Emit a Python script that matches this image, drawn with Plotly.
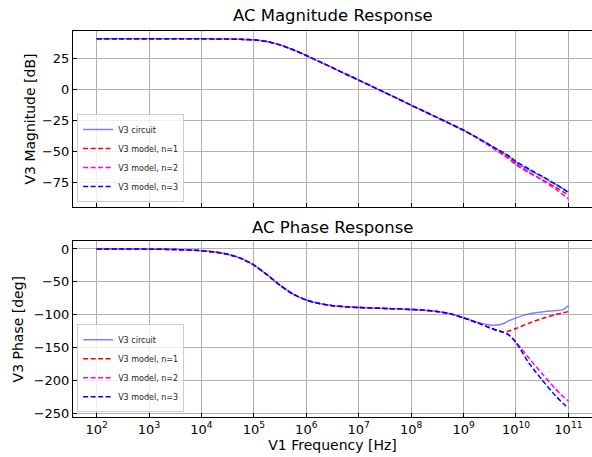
import plotly.graph_objects as go
from plotly.subplots import make_subplots

# log10 of V1 frequency [Hz]
log_f = [2.0, 2.5, 3.0, 3.5, 4.0, 4.25, 4.5, 4.75, 5.0, 5.25, 5.5, 5.75, 6.0, 6.25, 6.5, 6.75,
         7.0, 7.25, 7.5, 7.75, 8.0, 8.25, 8.5, 8.75, 9.0, 9.25, 9.5, 9.6, 9.75, 9.85, 10.0,
         10.25, 10.5, 10.75, 10.9, 11.0]
freq = [10 ** e for e in log_f]

mag_circuit = [40.6, 40.6, 40.6, 40.6, 40.6, 40.55, 40.45, 40.2, 39.8, 38.4, 35.7, 31.8, 27.2, 22.3,
               17.4, 12.4, 7.45, 2.45, -2.55, -7.6, -12.7, -17.7, -22.7, -27.7, -32.8, -38.6,
               -44.7, -47.2, -50.8, -53.4, -58.5, -64.8, -70.3, -76.2, -79.8, -82.5]
mag_n1 = [40.6, 40.6, 40.6, 40.6, 40.6, 40.55, 40.45, 40.2, 39.8, 38.4, 35.7, 31.8, 27.2, 22.3,
          17.4, 12.4, 7.45, 2.45, -2.55, -7.6, -12.7, -17.7, -22.7, -27.7, -32.8, -38.8,
          -45.5, -48.3, -52.5, -55.3, -60.5, -67.0, -72.5, -78.5, -82.3, -85.0]
mag_n2 = [40.6, 40.6, 40.6, 40.6, 40.6, 40.55, 40.45, 40.2, 39.8, 38.4, 35.7, 31.8, 27.2, 22.3,
          17.4, 12.4, 7.45, 2.45, -2.55, -7.6, -12.7, -17.7, -22.7, -27.7, -32.8, -38.7,
          -45.0, -47.7, -51.7, -54.5, -59.5, -66.5, -73.0, -80.0, -84.8, -88.0]
mag_n3 = [40.6, 40.6, 40.6, 40.6, 40.6, 40.55, 40.45, 40.2, 39.8, 38.4, 35.7, 31.8, 27.2, 22.3,
          17.4, 12.4, 7.45, 2.45, -2.55, -7.6, -12.7, -17.7, -22.7, -27.7, -32.8, -38.6,
          -44.6, -47.0, -50.5, -53.0, -57.8, -64.0, -69.8, -76.0, -80.0, -83.0]

ph_circuit = [-0.03, -0.08, -0.26, -0.82, -2.6, -4.6, -8.1, -14.0, -24.4, -39.0, -55.0, -68.5,
              -77.5, -82.8, -86.0, -87.8, -88.8, -89.5, -90.2, -90.9, -91.9, -92.8, -94.8, -98.3,
              -104.5, -111.0, -115.3, -115.7, -113.5, -109.5, -104.5, -98.5, -95.5, -93.5, -92.0,
              -86.0]
ph_n1 = [-0.03, -0.08, -0.26, -0.82, -2.6, -4.6, -8.1, -14.0, -24.4, -39.0, -55.0, -68.5,
         -77.5, -82.8, -86.0, -87.8, -88.8, -89.5, -90.2, -90.9, -91.9, -92.8, -94.8, -98.3,
         -104.5, -111.5, -119.5, -122.5, -125.8, -124.7, -120.7, -112.5, -105.5, -99.5, -97.0,
         -95.0]
ph_n2 = [-0.03, -0.08, -0.26, -0.82, -2.6, -4.6, -8.1, -14.0, -24.4, -39.0, -55.0, -68.5,
         -77.5, -82.8, -86.0, -87.8, -88.8, -89.5, -90.2, -90.9, -91.9, -92.8, -94.8, -98.3,
         -104.5, -111.5, -119.5, -122.5, -126.5, -129.5, -141.4, -166.0, -189.5, -212.0, -224.0,
         -231.0]
ph_n3 = [-0.03, -0.08, -0.26, -0.82, -2.6, -4.6, -8.1, -14.0, -24.4, -39.0, -55.0, -68.5,
         -77.5, -82.8, -86.0, -87.8, -88.8, -89.5, -90.2, -90.9, -91.9, -92.8, -94.8, -98.3,
         -104.5, -111.5, -119.5, -122.5, -126.5, -129.5, -142.0, -173.5, -199.0, -222.5, -234.5,
         -241.5]

series_names = ["V3 circuit", "V3 model, n=1", "V3 model, n=2", "V3 model, n=3"]
x_tick_exp = [2, 3, 4, 5, 6, 7, 8, 9, 10, 11]
mag_ticks = [25, 0, -25, -50, -75]
ph_ticks = [0, -50, -100, -150, -200, -250]

FONT = "DejaVu Sans"
styles = [
    dict(color="rgba(0,0,255,0.5)", width=1.5, dash="solid"),
    dict(color="#ff0000", width=1.5, dash="5px,2.5px"),
    dict(color="#ff00ff", width=1.5, dash="5px,2.5px"),
    dict(color="#0000ff", width=1.5, dash="5px,2.5px"),
]

fig = make_subplots(rows=2, cols=1, shared_xaxes=False, vertical_spacing=0.089)

for name, ys, st in zip(series_names, [mag_circuit, mag_n1, mag_n2, mag_n3], styles):
    fig.add_trace(go.Scatter(x=freq, y=ys, mode="lines", name=name,
                             line=dict(shape="spline", smoothing=0.6, **st),
                             legend="legend"), row=1, col=1)
for name, ys, st in zip(series_names, [ph_circuit, ph_n1, ph_n2, ph_n3], styles):
    fig.add_trace(go.Scatter(x=freq, y=ys, mode="lines", name=name,
                             line=dict(shape="spline", smoothing=0.6, **st),
                             legend="legend2"), row=2, col=1)

axis_common = dict(showline=True, linecolor="black", linewidth=1, mirror=True,
                   showgrid=True, gridcolor="#b0b0b0", gridwidth=1,
                   ticks="inside", ticklen=4, tickcolor="black", tickwidth=1,
                   zeroline=False, tickfont=dict(family=FONT, size=13, color="black"))

xvals = [10 ** e for e in x_tick_exp]
xtext = ["10<sup>%d</sup>" % e for e in x_tick_exp]
fig.update_xaxes(type="log", range=[1.55, 11.45], tickvals=xvals, ticktext=xtext, **axis_common)
fig.update_xaxes(showticklabels=False, row=1, col=1)
fig.update_xaxes(title=dict(text="V1 Frequency [Hz]", font=dict(family=FONT, size=14, color="black"), standoff=4),
                 row=2, col=1)
fig.update_yaxes(**axis_common)
fig.update_yaxes(range=[-94.5, 46.9], tickvals=mag_ticks,
                 title=dict(text="V3 Magnitude [dB]", font=dict(family=FONT, size=14, color="black"), standoff=3),
                 row=1, col=1)
fig.update_yaxes(range=[-255, 11.55], tickvals=ph_ticks,
                 title=dict(text="V3 Phase [deg]", font=dict(family=FONT, size=14, color="black"), standoff=6),
                 row=2, col=1)

fig.update_layout(
    width=592, height=457,
    margin=dict(l=73, r=0, t=31, b=40),
    plot_bgcolor="white", paper_bgcolor="white",
    font=dict(family=FONT, color="black"),
    xaxis=dict(domain=[0, 1]), xaxis2=dict(domain=[0, 1]),
    yaxis=dict(domain=[0.544, 1.0]), yaxis2=dict(domain=[0.0, 0.455]),
    legend=dict(x=0.008, y=0.557, xanchor="left", yanchor="bottom",
                bgcolor="rgba(255,255,255,0.8)", bordercolor="#cccccc", borderwidth=1,
                font=dict(family=FONT, size=8, color="#222222"), itemwidth=30, tracegroupgap=0),
    legend2=dict(x=0.008, y=0.012, xanchor="left", yanchor="bottom",
                 bgcolor="rgba(255,255,255,0.8)", bordercolor="#cccccc", borderwidth=1,
                 font=dict(family=FONT, size=8, color="#222222"), itemwidth=30, tracegroupgap=0),
    annotations=[
        dict(text="AC Magnitude Response", xref="paper", yref="paper", x=0.5, y=1.0,
             xanchor="center", yanchor="bottom", yshift=4, showarrow=False,
             font=dict(family=FONT, size=16.5, color="black")),
        dict(text="AC Phase Response", xref="paper", yref="paper", x=0.5, y=0.455,
             xanchor="center", yanchor="bottom", yshift=2, showarrow=False,
             font=dict(family=FONT, size=16.5, color="black")),
    ],
)

fig.write_html("out.html")
